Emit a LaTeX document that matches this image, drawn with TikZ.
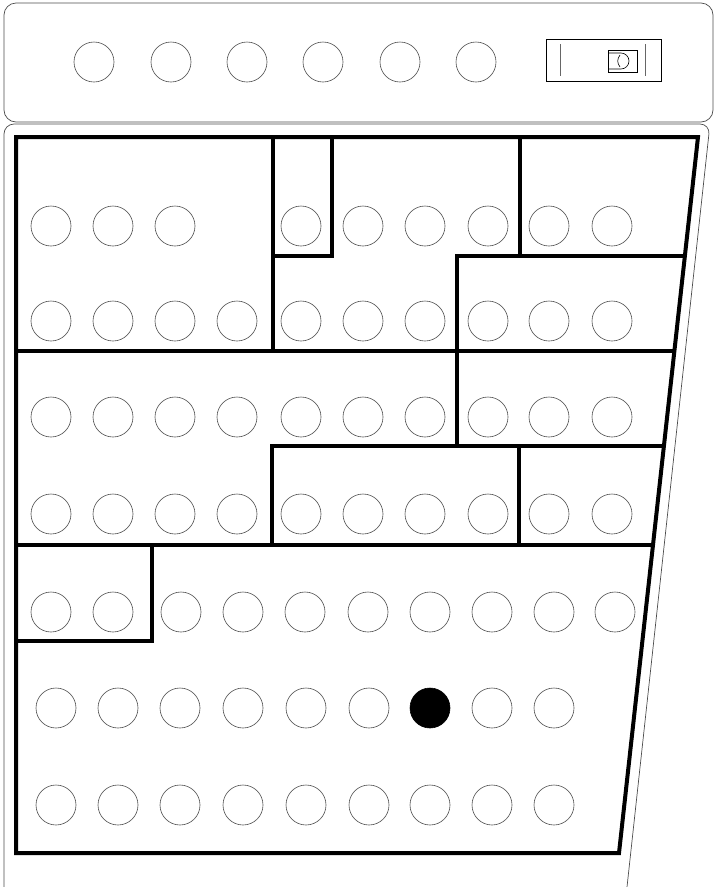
\documentclass[tikz,border=0pt]{standalone}
\usetikzlibrary{calc}
\begin{document}
\begin{tikzpicture}[x=1pt,y=-1pt,
hole/.style={circle,draw=black!70,line width=.6pt,minimum size=40pt,inner sep=0pt},
lit/.style={hole,draw=black,fill=black},
wall/.style={line width=4pt,line join=miter},
shell/.style={draw=black!70,line width=.7pt},
switchbox/.style={draw,line width=.8pt,inner sep=0pt}]
\useasboundingbox (0,0) rectangle (716,887);
% housing
\draw[shell,rounded corners=12pt] (4,3) rectangle (713,122);
\draw[shell,rounded corners=10pt] (4,887)--(4,124)--(710,124)--(627,887);
% top lamps and switch
\foreach \x [count=\c] in {94,171,247,323,400,476} \node[hole] (t-\c) at (\x,62) {};
\node[switchbox,minimum width=115pt,minimum height=42pt] (switch) at (603.5,60) {};
\node[switchbox,minimum width=29pt,minimum height=22pt] (knob) at (622.5,61) {};
\draw[black!60,line width=.8pt] ($(switch.west)+(15,-16)$)--($(switch.west)+(15,16)$);
\draw[black!60,line width=.8pt] ($(switch.east)+(-16,-16)$)--($(switch.east)+(-16,16)$);
\draw[line width=.6pt] (609,53)--(621,53) arc[start angle=-90,end angle=90,radius=8]--(609,69);
\draw[line width=.6pt] (620,55) .. controls (617,59) and (617,63) .. (620,67);
% walls
\draw[wall] (16,137)--(698,137)--(619,853)--(16,853)--cycle;
\draw[wall] (273,137)--(273,351);
\draw[wall] (273,256)--(332,256)--(332,137);
\draw[wall] (520,137)--(520,256);
\draw[wall] (457,446)--(457,256)--(685,256);
\draw[wall] (16,351)--(674,351);
\draw[wall] (272,545)--(272,446)--(664,446);
\draw[wall] (519,446)--(519,545);
\draw[wall] (16,545)--(653,545);
\draw[wall] (152,545)--(152,641)--(16,641);
% lamps
\foreach \x [count=\c] in {51,113,175,301,363,425,488,549,612} \node[hole] (h1-\c) at (\x,226) {};
\foreach \y [count=\r from 2] in {321,417,514}
  \foreach \x [count=\c] in {51,113,175,237,301,363,425,488,549,612} \node[hole] (h\r-\c) at (\x,\y) {};
\foreach \x [count=\c] in {51,113,181,243,305,368,430,492,554,615} \node[hole] (h5-\c) at (\x,612) {};
\foreach \x/\s [count=\c] in {56/hole,118/hole,180/hole,243/hole,306/hole,369/hole,430/lit,492/hole,554/hole} \node[\s] (h6-\c) at (\x,708) {};
\foreach \x [count=\c] in {56,118,180,243,306,369,430,492,554} \node[hole] (h7-\c) at (\x,805) {};
\end{tikzpicture}
\end{document}
